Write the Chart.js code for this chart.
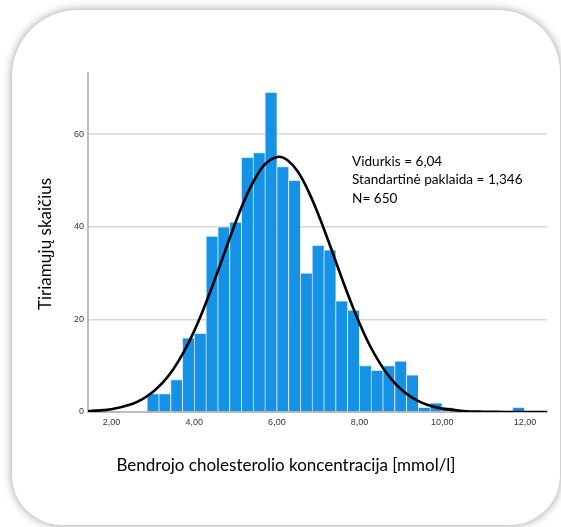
<!DOCTYPE html>
<html>
<head>
<meta charset="utf-8">
<script src="https://cdn.jsdelivr.net/npm/chart.js@4"></script>
<style>
  html, body { margin: 0; padding: 0; background: #fff; }
  body { width: 561px; height: 527px; position: relative; overflow: hidden; }
  #card {
    position: absolute; left: 12px; top: 10px; width: 548px; height: 515px;
    background: #fff; border-radius: 66px 62px 50px 50px;
    box-shadow: 0 0 10px rgba(0, 0, 0, 0.4);
  }
  #wrap { position: absolute; left: 0; top: 0; width: 561px; height: 527px; }
</style>
</head>
<body>
<div id="card"></div>
<div id="wrap"><canvas id="myChart"></canvas></div>
<script>
// histogram bins (mmol/l)
var binStart = 2.86;
var binWidth = 0.285;
var counts = [4, 4, 7, 16, 17, 38, 40, 41, 55, 56, 69, 53, 50, 30, 36, 35, 24, 22, 10, 9, 10, 11, 8, 1, 2, 1, 0, 0, 0, 0, 0, 1];

// normal curve
var curveX = [1.434, 2.0, 2.5, 2.75, 3.0, 3.25, 3.5, 3.75, 4.0, 4.25, 4.5, 4.75, 5.0, 5.25, 5.5, 5.75, 6.04,
  6.25, 6.5, 6.75, 7.0, 7.25, 7.5, 7.75, 8.0, 8.25, 8.5, 8.75, 9.0, 9.25, 9.5, 9.75, 10.0, 10.5, 11.0, 11.5, 12.0, 12.53];
var curveY = [0.16, 0.61, 1.74, 2.78, 4.3, 6.43, 9.29, 12.96, 17.47, 22.76, 28.6, 34.8, 40.9, 46.4, 50.8, 53.8, 55.1,
  54.4, 52.0, 47.9, 42.7, 36.8, 30.6, 24.6, 19.1, 14.3, 10.4, 7.26, 4.91, 3.21, 2.02, 1.23, 0.73, 0.23, 0.06, 0.01, 0, 0];

var xTicks = [2, 4, 6, 8, 10, 12];
var xTickLabels = ['2,00', '4,00', '6,00', '8,00', '10,00', '12,00'];
var yTicks = [0, 20, 40, 60];

var xTitle = 'Bendrojo cholesterolio koncentracija [mmol/l]';
var yTitle = 'Tiriamųjų skaičius';
var statsLines = ['Vidurkis = 6,04', 'Standartinė paklaida = 1,346', 'N= 650'];

var barData = counts.map(function (c, i) {
  return { x: binStart + (i + 0.5) * binWidth, y: c };
});
var curveData = curveX.map(function (x, i) {
  return { x: x, y: curveY[i] };
});

var textPlugin = {
  id: 'texts',
  afterDraw: function (chart) {
    var ctx = chart.ctx;
    ctx.save();
    ctx.fillStyle = '#000';
    ctx.font = '17px Lato';
    ctx.textAlign = 'center';
    ctx.textBaseline = 'alphabetic';
    ctx.fillText(xTitle, 286, 471);
    ctx.translate(51, 244);
    ctx.rotate(-Math.PI / 2);
    ctx.fillText(yTitle, 0, 0);
    ctx.restore();

    ctx.save();
    ctx.fillStyle = '#000';
    ctx.font = '13.6px Lato';
    ctx.textAlign = 'left';
    ctx.textBaseline = 'alphabetic';
    statsLines.forEach(function (t, i) {
      ctx.fillText(t, 352, 166 + i * 18.4);
    });
    ctx.restore();
  }
};

var config = {
  type: 'bar',
  data: {
    datasets: [{
      type: 'line',
      data: curveData,
      borderColor: '#000',
      borderWidth: 2.6,
      pointRadius: 0,
      tension: 0.4,
      fill: false,
      order: 0
    }, {
      type: 'bar',
      data: barData,
      backgroundColor: '#1591e6',
      borderColor: '#cfe7fa',
      borderWidth: { left: 1, top: 1, right: 0, bottom: 0 },
      barPercentage: 1,
      categoryPercentage: 1,
      order: 1
    }]
  },
  options: {
    responsive: true,
    maintainAspectRatio: false,
    devicePixelRatio: 1,
    animation: false,
    layout: { padding: { top: 73, right: 14, left: 0, bottom: 0 } },
    plugins: {
      legend: { display: false },
      tooltip: { enabled: false }
    },
    scales: {
      x: {
        type: 'linear',
        min: 1.434,
        max: 12.53,
        offset: false,
        grid: { display: false, drawTicks: false, offset: false },
        border: { color: '#bdbdbd', width: 2 },
        afterBuildTicks: function (scale) {
          scale.ticks = xTicks.map(function (v) { return { value: v }; });
        },
        afterFit: function (scale) { scale.height = 115; },
        ticks: {
          padding: 5,
          maxRotation: 0,
          autoSkip: false,
          color: '#333',
          font: { family: 'Liberation Sans', size: 9 },
          callback: function (v) { return xTickLabels[xTicks.indexOf(v)]; }
        }
      },
      y: {
        min: 0,
        max: 73.2,
        grid: { color: '#d6d6d6', lineWidth: 1.5, drawTicks: false },
        border: { color: '#bdbdbd', width: 2 },
        afterBuildTicks: function (scale) {
          scale.ticks = yTicks.map(function (v) { return { value: v }; });
        },
        afterFit: function (scale) { scale.width = 88; },
        ticks: {
          padding: 4,
          color: '#333',
          font: { family: 'Liberation Sans', size: 9 }
        }
      }
    }
  },
  plugins: [textPlugin]
};

var myChart = new Chart(document.getElementById('myChart'), config);
</script>
</body>
</html>
